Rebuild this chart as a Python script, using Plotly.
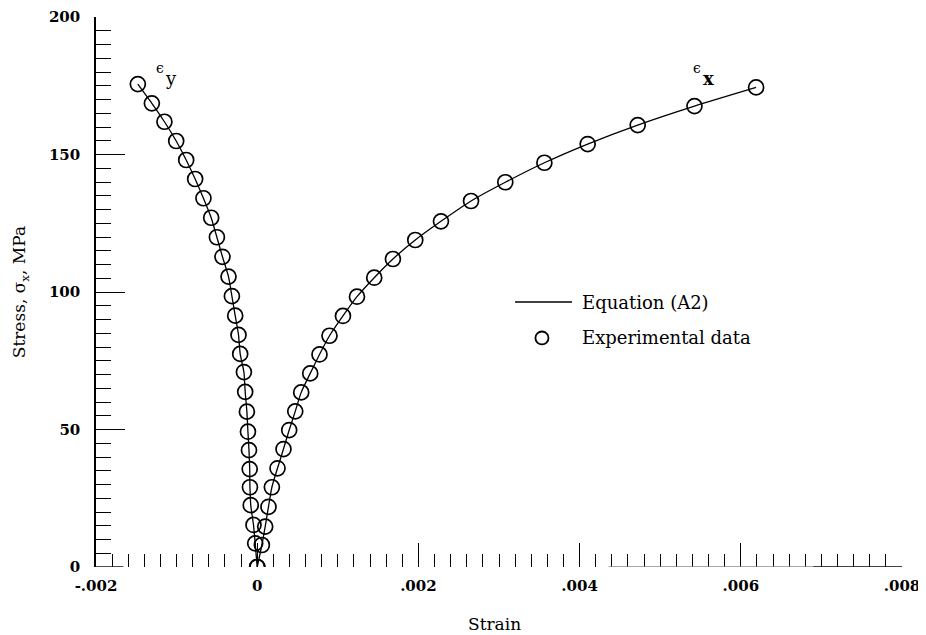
import plotly.graph_objects as go

# ---- data ----
strain_x = [0.0, 0.000058, 0.000099, 0.000140, 0.000182, 0.000252, 0.000326, 0.000397,
            0.000472, 0.000546, 0.000658, 0.000773, 0.000897, 0.001064, 0.001238, 0.001452,
            0.001684, 0.001961, 0.002280, 0.002653, 0.003078, 0.003563, 0.004100, 0.004721,
            0.005425, 0.006190]
stress_x = [0.0, 8.0, 14.7, 21.9, 29.0, 35.9, 42.9, 49.8, 56.6, 63.5, 70.4, 77.3, 84.1,
            91.3, 98.3, 105.2, 112.0, 118.9, 125.7, 133.1, 139.9, 147.0, 153.8, 160.7,
            167.6, 174.4]

strain_y = [0.0, -0.000025, -0.000046, -0.000080, -0.000090, -0.000093, -0.000102, -0.000115,
            -0.000128, -0.000149, -0.000165, -0.000211, -0.000232, -0.000273, -0.000314,
            -0.000356, -0.000431, -0.000500, -0.000571, -0.000667, -0.000770, -0.000881,
            -0.001005, -0.001151, -0.001307, -0.001481]
stress_y = [0.0, 8.6, 15.3, 22.5, 29.0, 35.6, 42.5, 49.2, 56.5, 63.7, 70.9, 77.5, 84.4,
            91.4, 98.5, 105.6, 112.8, 119.9, 127.0, 134.1, 141.1, 148.0, 154.9, 161.9,
            168.6, 175.6]

x_tickvals = [-0.002, 0, 0.002, 0.004, 0.006, 0.008]
x_ticktext = ["-.002", "0", ".002", ".004", ".006", ".008"]
y_tickvals = [0, 50, 100, 150, 200]
y_ticktext = ["0", "50", "100", "150", "200"]

FONT = "DejaVu Serif"

fig = go.Figure()
for sx, sy in [(strain_y, stress_y), (strain_x, stress_x)]:
    fig.add_trace(go.Scatter(x=sx, y=sy, mode="lines",
                             line=dict(color="black", width=1.3, shape="spline", smoothing=0.6),
                             showlegend=False, hoverinfo="skip"))
    fig.add_trace(go.Scatter(x=sx, y=sy, mode="markers",
                             marker=dict(symbol="circle-open", size=15, color="black",
                                         line=dict(width=1.7, color="black")),
                             showlegend=False))

fig.update_xaxes(range=[-0.002, 0.008], showgrid=False, zeroline=False, showline=False,
                 tickmode="array", tickvals=x_tickvals, ticktext=x_ticktext,
                 ticks="inside", ticklen=24, tickwidth=1.4, tickcolor="black",
                 ticklabelstandoff=8,
                 minor=dict(dtick=0.0002, tick0=0, ticks="inside", ticklen=13,
                            tickwidth=1.4, tickcolor="black", showgrid=False),
                 tickfont=dict(family=FONT, size=15, color="black", weight="bold"))
fig.update_yaxes(range=[0, 200], showgrid=False, zeroline=False, showline=True,
                 linecolor="black", linewidth=1.5,
                 tickmode="array", tickvals=y_tickvals, ticktext=y_ticktext,
                 ticks="inside", ticklen=29, tickwidth=1.4, tickcolor="black",
                 ticklabelstandoff=11,
                 minor=dict(dtick=5, tick0=0, ticks="inside", ticklen=15,
                            tickwidth=1.3, tickcolor="black", showgrid=False),
                 tickfont=dict(family=FONT, size=15, color="black", weight="bold"))

shapes = [
    # partial x-axis line segments as in the reference
    dict(type="line", xref="x", yref="y", x0=-0.002, x1=-0.00166, y0=0, y1=0,
         line=dict(color="black", width=1.4)),
    dict(type="line", xref="x", yref="y", x0=0.00436, x1=0.0069, y0=0, y1=0,
         line=dict(color="#8a8a8a", width=1.4)),
    dict(type="line", xref="x", yref="y", x0=0.0069, x1=0.008, y0=0, y1=0,
         line=dict(color="black", width=1.4)),
    # legend line and circle
    dict(type="line", xref="paper", yref="paper", x0=0.5199, x1=0.5906, y0=0.4818, y1=0.4818,
         line=dict(color="black", width=1.3)),
    dict(type="circle", xref="paper", yref="paper", x0=0.5533 - 0.0081, x1=0.5533 + 0.0081,
         y0=0.4164 - 0.0118, y1=0.4164 + 0.0118, line=dict(color="black", width=1.8)),
]

annotations = [
    dict(text="Equation (A2)", xref="paper", yref="paper", x=0.601, y=0.4818,
         xanchor="left", yanchor="middle", showarrow=False,
         font=dict(family=FONT, size=18, color="black")),
    dict(text="Experimental data", xref="paper", yref="paper", x=0.601, y=0.4164,
         xanchor="left", yanchor="middle", showarrow=False,
         font=dict(family=FONT, size=18, color="black")),
    dict(text="Strain", xref="paper", yref="paper", x=0.495, y=-0.104,
         xanchor="center", yanchor="middle", showarrow=False,
         font=dict(family=FONT, size=17, color="black")),
    dict(text="Stress, σ<sub>x</sub>, MPa", xref="paper", yref="paper", x=-0.094, y=0.5,
         xanchor="center", yanchor="middle", showarrow=False, textangle=-90,
         font=dict(family=FONT, size=17, color="black")),
    dict(text="ϵ", xref="x", yref="y", x=-0.001204, y=181.5,
         xanchor="center", yanchor="middle", showarrow=False,
         font=dict(family=FONT, size=14, color="black")),
    dict(text="y", xref="x", yref="y", x=-0.001068, y=177.5,
         xanchor="center", yanchor="middle", showarrow=False,
         font=dict(family=FONT, size=18, color="black")),
    dict(text="ϵ", xref="x", yref="y", x=0.005462, y=181.5,
         xanchor="center", yanchor="middle", showarrow=False,
         font=dict(family=FONT, size=14, color="black")),
    dict(text="x", xref="x", yref="y", x=0.005598, y=177.5,
         xanchor="center", yanchor="middle", showarrow=False,
         font=dict(family=FONT, size=18, color="black", weight="bold")),
]

fig.update_layout(width=918, height=627,
                  margin=dict(l=88, r=24, t=9, b=68, autoexpand=False),
                  plot_bgcolor="white", paper_bgcolor="white",
                  shapes=shapes, annotations=annotations, showlegend=False)

fig.write_html("out.html")
